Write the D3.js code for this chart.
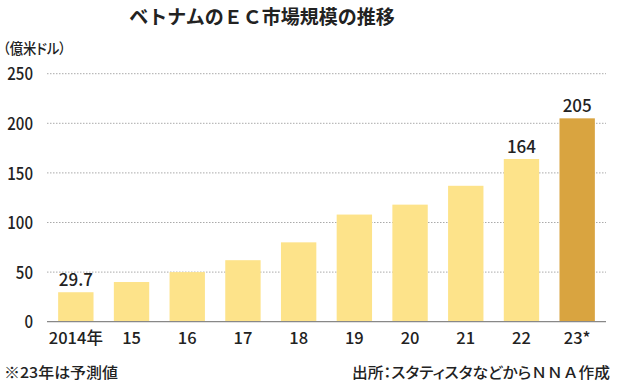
<!DOCTYPE html>
<html><head><meta charset="utf-8">
<script src="https://cdn.jsdelivr.net/npm/d3@7"></script>
<style>
body{margin:0;background:#fff;}
text{font-family:"Noto Sans CJK JP","Noto Sans",sans-serif;fill:#222;}
.palt{font-feature-settings:"palt" 1;}
.nopalt{font-feature-settings:normal;}
</style></head>
<body><svg id="c" width="620" height="387"></svg>
<script>
const categories = ["2014年","15","16","17","18","19","20","21","22","23*"];
const values = [29.7, 40, 50, 62, 80, 108, 118, 137, 164, 205];
const labeled = ["2014年","22","23*"];
const labelText = ["29.7","164","205"];
const yTicks = [0, 50, 100, 150, 200, 250];

const svg = d3.select("#c");
const x = d3.scaleBand().domain(categories).range([47, 606]).paddingInner(0.365).paddingOuter(0.2);
const y = d3.scaleLinear().domain([0, 250]).range([321.7, 73.7]);

// title
svg.append("text").attr("x", 262).attr("y", 24).attr("text-anchor", "middle")
  .attr("font-size", 19).attr("font-weight", 700).text("ベトナムのＥＣ市場規模の推移");
svg.append("text").attr("class", "palt").attr("x", 3).attr("y", 54).attr("font-size", 14.5).attr("font-weight", 500)
  .attr("transform", "translate(3,54) scale(0.92,1) translate(-3,-54)").text("（億米ドル）");

// grid
const yAxis = d3.axisLeft(y).tickValues(yTicks).tickSize(0).tickPadding(0);
const gy = svg.append("g").attr("transform", "translate(33,0)").call(yAxis);
gy.select(".domain").remove();
gy.selectAll("text").attr("font-size", 17.5).attr("font-weight", 500).attr("fill", "#222")
  .attr("font-family", "'Noto Sans CJK JP'").attr("transform", "scale(0.86,1)").attr("dy","0.35em");

svg.append("g").selectAll("line").data(yTicks.filter(d => d > 0)).join("line")
  .attr("x1", 47).attr("x2", 606).attr("y1", d => y(d)).attr("y2", d => y(d))
  .attr("stroke", "#aaa").attr("stroke-width", 1).attr("stroke-dasharray", "1.5,1.5");

// bars
svg.append("g").selectAll("rect").data(categories).join("rect")
  .attr("x", d => x(d)).attr("width", x.bandwidth())
  .attr("y", (d, i) => y(values[i])).attr("height", (d, i) => y(0) - y(values[i]))
  .attr("fill", (d, i) => i === categories.length - 1 ? "#D9A440" : "#FDE38A");

// axis line
svg.append("line").attr("x1", 47).attr("x2", 606).attr("y1", y(0)).attr("y2", y(0))
  .attr("stroke", "#888").attr("stroke-width", 1.2);

// x labels
const xAxis = d3.axisBottom(x).tickSize(0).tickPadding(0);
const gx = svg.append("g").attr("transform", `translate(0,${y(0)})`).call(xAxis);
gx.select(".domain").remove();
gx.selectAll("text").attr("font-size", 16.5).attr("font-weight", 500).attr("fill", "#222")
  .attr("font-family", "'Noto Sans CJK JP'").attr("dy", "0").attr("y", 22);

// value labels
labeled.forEach((c, k) => {
  const i = categories.indexOf(c);
  svg.append("text").attr("x", x(c) + x.bandwidth() / 2).attr("y", y(values[i]) - 6)
    .attr("text-anchor", "middle").attr("font-size", 17).attr("font-weight", 500).text(labelText[k]);
});

// notes
svg.append("text").attr("class", "palt").attr("x", 4).attr("y", 378).attr("font-size", 15).attr("font-weight", 500)
  .attr("textLength", 114).attr("lengthAdjust", "spacingAndGlyphs").text("※23年は予測値");
const src = svg.append("text").attr("class", "palt").attr("x", 352).attr("y", 378).attr("font-size", 15).attr("font-weight", 500)
  .attr("textLength", 258).attr("lengthAdjust", "spacingAndGlyphs");
src.append("tspan").text("出所：スタティスタなどから");
src.append("tspan").attr("class", "nopalt").text("ＮＮＡ");
src.append("tspan").text("作成");
</script></body></html>
